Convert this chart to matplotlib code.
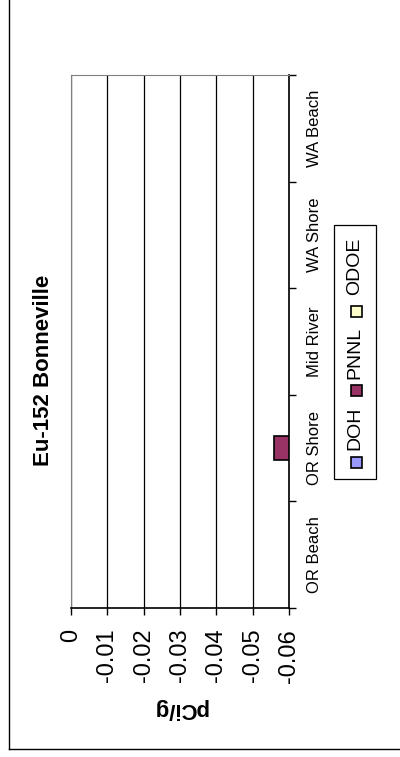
# Eu-152 Bonneville chart (the page is turned on its side, like the scan)
import matplotlib
matplotlib.use('Agg')
import matplotlib.pyplot as plt
from matplotlib.patches import Rectangle
from matplotlib.lines import Line2D

# --- Data ---
categories = ['OR Beach', 'OR Shore', 'Mid River', 'WA Shore', 'WA Beach']
series_names = ['DOH', 'PNNL', 'ODOE']
series_colors = ['#9999FF', '#993366', '#FFFFCC']
# None means there is no bar for that place.
doh_values = [None, None, None, None, None]
pnnl_values = [None, -0.056, None, None, None]
odoe_values = [None, None, None, None, None]
value_ticks = [0, -0.01, -0.02, -0.03, -0.04, -0.05, -0.06]
value_tick_labels = ['0', '-0.01', '-0.02', '-0.03', '-0.04', '-0.05', '-0.06']

W, H = 400, 757  # picture size in pixels


def fx(x):
    # pixel x -> figure fraction
    return x / W


def fy(y):
    # pixel y (from top) -> figure fraction
    return 1 - y / H


plt.rcParams['font.family'] = ['Liberation Sans', 'DejaVu Sans']

fig = plt.figure(figsize=(W / 100, H / 100), dpi=100)
ax = fig.add_axes([fx(71), fy(608), fx(289) - fx(71), fy(75) - fy(608)])

# The category axis crosses at the lowest value, so bars start from there.
axis_min = value_ticks[-1]
bar_h = 1 / 4.5
all_series = [doh_values, pnnl_values, odoe_values]
for i, values in enumerate(all_series):
    offset = (i - 1) * bar_h
    for j, v in enumerate(values):
        if v is None:
            continue
        ax.barh(j + offset, v - axis_min, left=axis_min, height=bar_h,
                color=series_colors[i], edgecolor='black', linewidth=1.2, zorder=3)

ax.set_xlim(value_ticks[0], value_ticks[-1])
ax.set_ylim(-0.5, len(categories) - 0.5)

# value axis (bottom)
ax.set_xticks(value_ticks)
ax.set_xticklabels(value_tick_labels, rotation=90, fontsize=17)
ax.tick_params(axis='x', direction='out', length=5, width=1, pad=10)
ax.grid(axis='x', color='black', linewidth=0.9, zorder=1)

# category axis (right side)
ax.yaxis.tick_right()
ax.set_yticks([k - 0.5 for k in range(len(categories) + 1)])
ax.set_yticklabels([])
ax.set_yticks(range(len(categories)), minor=True)
ax.set_yticklabels(categories, minor=True, rotation=90, fontsize=12, va='center')
ax.tick_params(axis='y', which='major', direction='out', length=5, width=1)
ax.tick_params(axis='y', which='minor', length=0, pad=13)

for side in ['left', 'top']:
    ax.spines[side].set_color('#808080')
for side in ['right', 'bottom']:
    ax.spines[side].set_color('black')
    ax.spines[side].set_linewidth(1.2)

# title and axis name
fig.text(fx(44), fy(370), 'Eu-152 Bonneville', rotation=90, fontsize=16,
         fontweight='bold', ha='center', va='center')
fig.text(fx(180), fy(708), 'pCi/g', rotation=180, fontsize=16,
         fontweight='bold', ha='center', va='center')

# legend, drawn by hand because the text is turned
fig.add_artist(Rectangle((fx(334), fy(479)), fx(376) - fx(334), fy(225) - fy(479),
                         transform=fig.transFigure, facecolor='white',
                         edgecolor='black', linewidth=0.9))
square_y = [462, 390, 311]
text_y = [428, 353, 266]
for name, color, sy, ty in zip(series_names, series_colors, square_y, text_y):
    fig.add_artist(Rectangle((fx(351), fy(sy + 5.5)), fx(11), 11 / H,
                             transform=fig.transFigure, facecolor=color,
                             edgecolor='black', linewidth=1.2))
    fig.text(fx(355), fy(ty), name, rotation=90, fontsize=14,
             ha='center', va='center')

# outer chart border (only left and bottom show)
fig.add_artist(Line2D([fx(9), fx(9)], [1, fy(749)], color='black', linewidth=1))
fig.add_artist(Line2D([fx(9), 1], [fy(749), fy(749)], color='black', linewidth=1))

fig.savefig('out.png', dpi=100)
